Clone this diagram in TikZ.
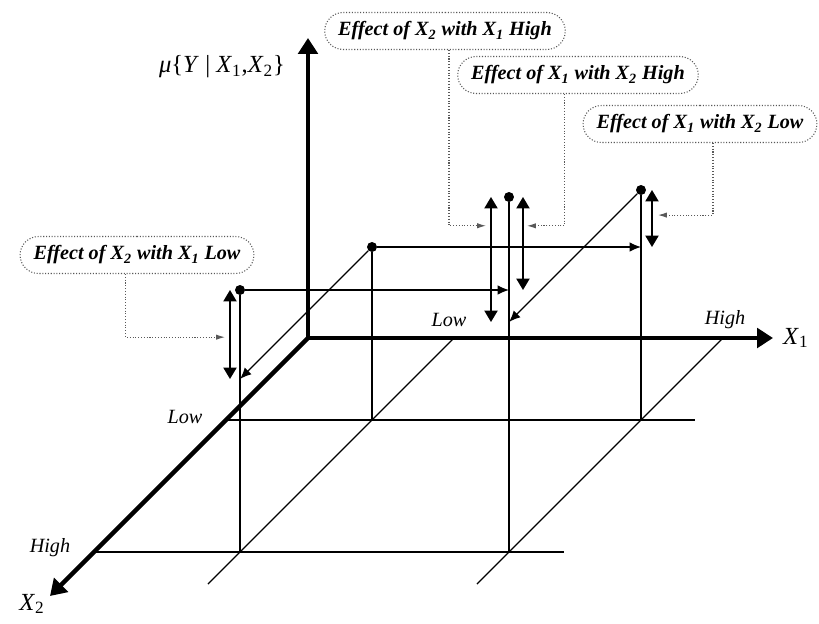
\documentclass[tikz,border=0pt]{standalone}
\usepackage{fontspec}
\setmainfont{Liberation Serif}
\usetikzlibrary{arrows.meta, shapes.misc, positioning, calc}

\newcommand{\Xs}[1]{\textit{X}\textsubscript{#1}}

\begin{document}
\begin{tikzpicture}[
    x={(0.02cm,0)}, y={(0,0.02cm)}, z={(-0.02cm,-0.02cm)},
    axisline/.style={line width=2.6pt, -{Triangle[length=9pt, width=11pt]}},
    stem/.style={line width=1.2pt},
    floorline/.style={line width=0.6pt},
    rail/.style={line width=0.8pt},
    dot/.style={circle, fill, inner sep=0pt, minimum size=0.2cm},
    move/.style={line width=0.8pt, -{Latex[length=6.5pt, width=5.5pt]}},
    diff/.style={line width=0.9pt,
                 {Triangle[length=6.5pt, width=7.5pt]}-{Triangle[length=6.5pt, width=7.5pt]}},
    effbox/.style={rounded rectangle, draw=black!65, densely dotted, line width=0.6pt,
                   fill=white, minimum height=0.74cm, inner xsep=0.22cm,
                   font=\fontsize{11.5}{13}\selectfont\bfseries\itshape},
    lead/.style={draw=black!65, densely dotted, line width=0.6pt,
                 -{Latex[length=5pt, width=3pt]}},
    level/.style={font=\fontsize{11.5}{13}\selectfont\itshape},
    axlabel/.style={font=\fontsize{14}{16}\selectfont}
]
    \useasboundingbox (-308,-285) rectangle (511,338);

    \coordinate (o) at (0,0,0);
    \coordinate (ytip) at (0,300,0);
    \coordinate (x1tip) at (465,0,0);
    \coordinate (x2tip) at (0,0,258);

    \coordinate (x1lo) at (146,0,0);
    \coordinate (x1hi) at (415,0,0);
    \coordinate (x1loend) at (146,0,246);
    \coordinate (x1hiend) at (415,0,246);
    \coordinate (x2lo) at (0,0,82);
    \coordinate (x2hi) at (0,0,214);
    \coordinate (x2loend) at (469,0,82);
    \coordinate (x2hiend) at (470,0,214);

    \coordinate (basell) at (146,0,82);
    \coordinate (basehl) at (415,0,82);
    \coordinate (baselh) at (146,0,214);
    \coordinate (basehh) at (415,0,214);

    \node[dot] (ll) at (146,173,82) {};
    \node[dot] (hl) at (415,230,82) {};
    \node[dot] (lh) at (146,262,214) {};
    \node[dot] (hh) at (415,355,214) {};

    \coordinate (ll2h) at (415,173,82);
    \coordinate (ll2x) at (146,173,214);
    \coordinate (lh2h) at (415,262,214);
    \coordinate (hl2x) at (415,230,214);

    \draw[floorline] (x2lo) -- (x2loend);
    \draw[floorline] (x2hi) -- (x2hiend);
    \draw[rail] (x1lo) -- (x1loend);
    \draw[rail] (x1hi) -- (x1hiend);

    \draw[stem] (ll) -- (basell);
    \draw[stem] (hl) -- (basehl);
    \draw[stem] (lh) -- (baselh);
    \draw[stem] (hh) -- (basehh);

    \draw[axisline] (o) -- (ytip);
    \draw[axisline] (o) -- (x1tip);
    \draw[axisline] (o) -- (x2tip);

    \draw[move] (ll) -- (ll2h);
    \draw[move] (ll) -- (ll2x);
    \draw[move] (lh) -- (lh2h);
    \draw[move] (hl) -- (hl2x);

    \draw[diff] ([xshift=-0.36cm]hh.center) -- node[coordinate, pos=0.23] (m1) {} ([xshift=-0.36cm]hl2x);
    \draw[diff] ([xshift=0.28cm]hh.center) -- node[coordinate, pos=0.31] (m2) {} ([xshift=0.28cm]lh2h);
    \draw[diff] ([xshift=0.22cm]hl.center) -- node[coordinate, pos=0.44] (m3) {} ([xshift=0.22cm]ll2h);
    \draw[diff] ([xshift=-0.2cm]lh.center) -- node[coordinate, pos=0.53] (m4) {} ([xshift=-0.2cm]ll2x);

    \node[effbox] (e1) at (137,307) {Effect of \Xs{2} with \Xs{1} High};
    \node[effbox] (e2) at (270,263) {Effect of \Xs{1} with \Xs{2} High};
    \node[effbox] (e3) at (392,214) {Effect of \Xs{1} with \Xs{2} Low};
    \node[effbox] (e4) at (-171,83) {Effect of \Xs{2} with \Xs{1} Low};

    \draw[lead] ([xshift=0.08cm]e1.south) |- ([xshift=-0.1cm]m1);
    \draw[lead] ([xshift=-0.27cm]e2.south) |- ([xshift=0.08cm]m2);
    \draw[lead] ([xshift=0.26cm]e3.south) |- ([xshift=0.12cm]m3);
    \draw[lead] ([xshift=-0.23cm]e4.south) |- ([xshift=-0.1cm]m4);

    \node[axlabel] (ylab) at (-86,271) {\textit{μ}\{\textit{Y} | \Xs{1},\Xs{2}\}};
    \node[axlabel, right=0.08cm of x1tip] (x1lab) {\Xs{1}};
    \node[axlabel] (x2lab) at (-276,-266) {\Xs{2}};
    \node[level] (x1low) at (141,18) {Low};
    \node[level] (x1high) at (417,18) {High};
    \node[level] (x2low) at (-123,-79) {Low};
    \node[level] (x2high) at (-258,-210) {High};
\end{tikzpicture}
\end{document}
